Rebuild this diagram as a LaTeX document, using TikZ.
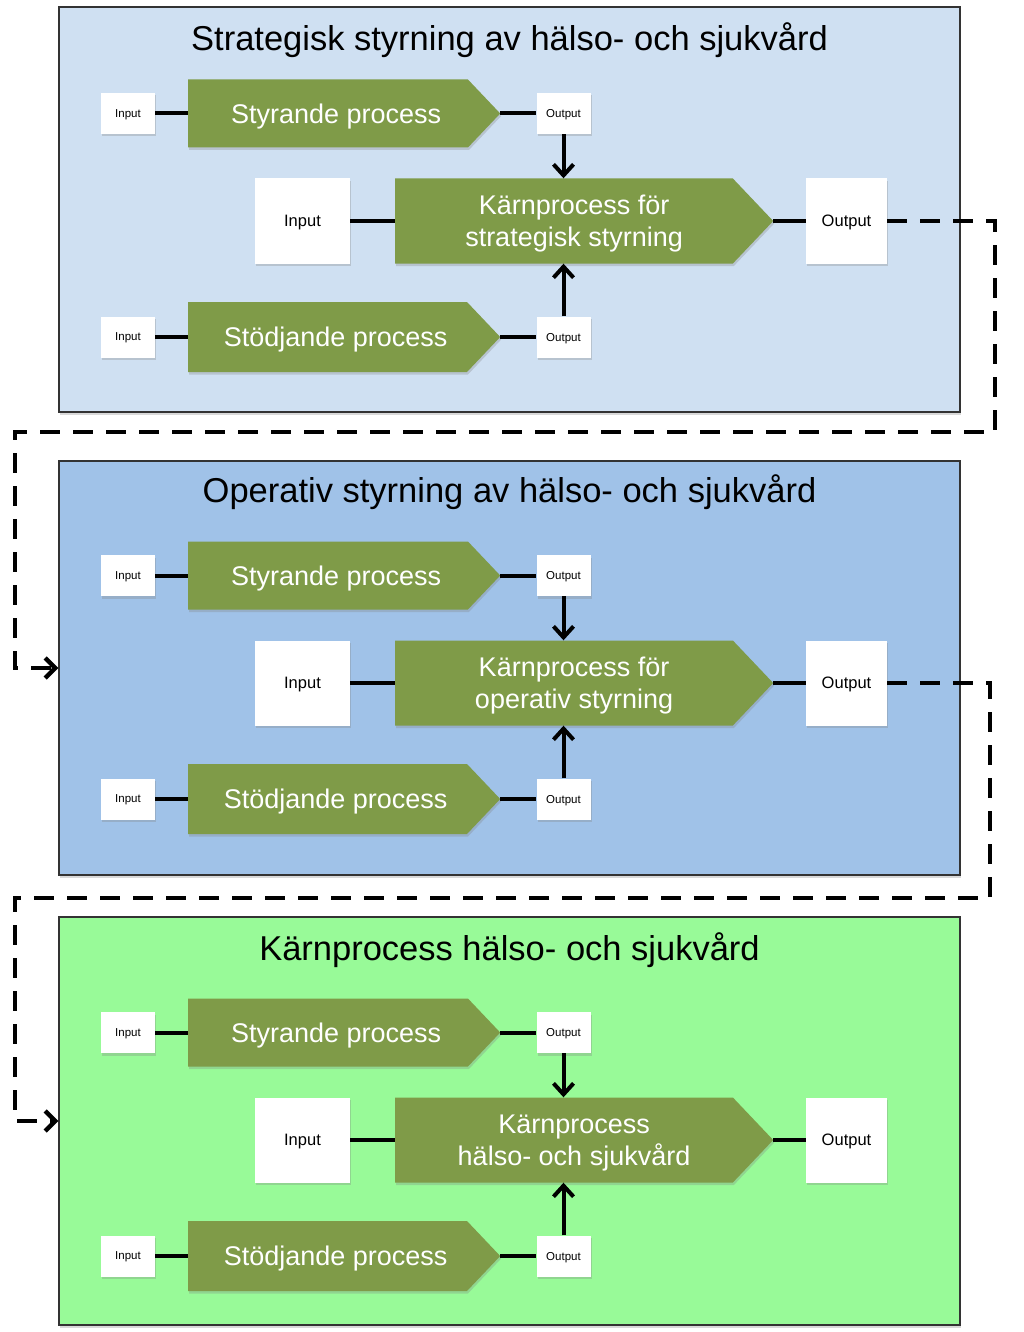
\documentclass[tikz,border=0pt]{standalone}
\usepackage{fontspec}
\setmainfont{Liberation Sans}
\usetikzlibrary{shapes.symbols,arrows.meta,shadows}
\definecolor{panelA}{RGB}{207,224,242}
\definecolor{panelB}{RGB}{160,194,232}
\definecolor{panelC}{RGB}{152,250,152}
\definecolor{procgreen}{RGB}{127,155,72}
\tikzset{
  softshadow/.style={drop shadow={shadow xshift=1pt,shadow yshift=-2.5pt,opacity=0.3}},
  panel/.style={draw=black!80, line width=1.2pt, minimum width=901, inner sep=0, softshadow},
  heading/.style={font=\fontsize{34.5}{40}\selectfont},
  iosmall/.style={fill=white, minimum width=54, minimum height=41, inner sep=0, text depth=0pt, font=\fontsize{11.5}{13}\selectfont, softshadow},
  iobig/.style={fill=white, minimum height=85, inner sep=0, text depth=0pt, font=\fontsize{16.5}{19}\selectfont, softshadow},
  proc/.style={signal, signal to=east, signal pointer angle=93, fill=procgreen, inner sep=0, anchor=west, softshadow},
  proctext/.style={text=white, inner sep=0, align=center, text depth=0pt, font=\fontsize{27}{32}\selectfont},
  link/.style={line width=4pt},
  flow/.style={link, -{Straight Barb[length=11pt,width=20pt]}},
  dashlink/.style={line width=4.5pt, dash pattern=on 20pt off 13pt, -{Straight Barb[length=10pt,width=20pt]}}
}
\begin{document}
\begin{tikzpicture}[x=1pt,y=-1pt]
  \useasboundingbox (0,0) rectangle (1024,1332);
  % three levels, same layout
  \foreach \p/\dy/\cy/\h/\ty/\head/\core in {
    A/0/209.5/405/40/{Strategisk styrning av hälso- och sjukvård}/{Kärnprocess för\\strategisk styrning},
    B/462/206/414/30/{Operativ styrning av hälso- och sjukvård}/{Kärnprocess för\\operativ styrning},
    C/919/202/408/31/{Kärnprocess hälso- och sjukvård}/{Kärnprocess\\hälso- och sjukvård}}{
  \begin{scope}[shift={(0,\dy)}]
    \node (pan\p) [panel, fill=panel\p, minimum height=\h] at (509.5,\cy) {};
    \node (head\p) [heading] at (509.5,\ty) {\head};
    \node (inS\p) [iosmall] at (128,113.5) {Input};
    \node (sty\p) [proc, minimum width=312, minimum height=68] at (188,113.5) {};
    \node (styT\p) [proctext] at ([xshift=8pt]sty\p.center) {Styrande process};
    \node (outS\p) [iosmall] at (563.5,113.5) {Output};
    \node (inK\p) [iobig, minimum width=95] at (302.5,221) {Input};
    \node (kern\p) [proc, minimum width=378, minimum height=85] at (395,221) {};
    \node (kernT\p) [proctext] at ([xshift=10pt]kern\p.center) {\core};
    \node (outK\p) [iobig, minimum width=81] at (846.5,221) {Output};
    \node (inD\p) [iosmall] at (128,337) {Input};
    \node (std\p) [proc, minimum width=312, minimum height=70] at (188,337) {};
    \node (stdT\p) [proctext] at ([xshift=8pt]std\p.center) {Stödjande process};
    \node (outD\p) [iosmall] at (563.5,337) {Output};
    \draw[link] (inS\p.east) -- (sty\p.west);
    \draw[link] (sty\p.east) -- (outS\p.west);
    \draw[link] (inK\p.east) -- (kern\p.west);
    \draw[link] (kern\p.east) -- (outK\p.west);
    \draw[link] (inD\p.east) -- (std\p.west);
    \draw[link] (std\p.east) -- (outD\p.west);
    \draw[flow] (outS\p.south) -- (outS\p.south |- kern\p.north);
    \draw[flow] (outD\p.north) -- (outD\p.north |- kern\p.south);
  \end{scope}}
  % dashed hand-over between the levels
  \draw[dashlink] (outKA.east) -| (995,432) -- (15,432) |- (panB.west);
  \draw[dashlink] (outKB.east) -| (990,898) -- (15,898) |- (panC.west);
\end{tikzpicture}
\end{document}
